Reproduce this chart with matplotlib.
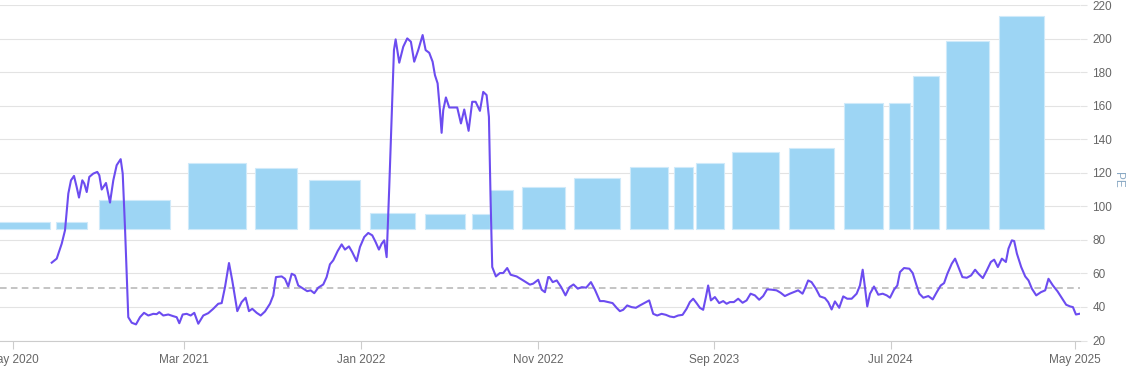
import pandas as pd
import numpy as np
import matplotlib
matplotlib.use("Agg")
import matplotlib.pyplot as plt
import matplotlib.dates as mdates

plt.rcParams["font.family"] = ["Liberation Sans", "DejaVu Sans"]

# Bars: one per reporting period (start, end, value)
bar_start = ["2020-03-01", "2020-07-24", "2020-10-06", "2021-03-08", "2021-07-01",
             "2021-10-02", "2022-01-15", "2022-04-20", "2022-07-10", "2022-08-10",
             "2022-10-04", "2023-01-02", "2023-04-08", "2023-06-23", "2023-08-01",
             "2023-10-02", "2024-01-07", "2024-04-11", "2024-06-28", "2024-08-08",
             "2024-10-05", "2025-01-03"]
bar_end = ["2020-07-13", "2020-09-15", "2021-02-05", "2021-06-16", "2021-09-12",
           "2021-12-29", "2022-04-04", "2022-06-28", "2022-08-10", "2022-09-20",
           "2022-12-17", "2023-03-22", "2023-06-13", "2023-07-26", "2023-09-17",
           "2023-12-21", "2024-03-26", "2024-06-17", "2024-08-03", "2024-09-22",
           "2024-12-18", "2025-03-22"]
bar_value = [4.2, 4.2, 17.5, 39.2, 36.6, 29.3, 9.4, 8.8, 8.8, 23.3, 24.9,
             30.4, 36.8, 36.8, 39.2, 45.8, 48.2, 75.0, 75.0, 91.3, 112.4, 127.2]

# PE line: days after 2020-05-01 and PE value
pe_base = "2020-05-01"
pe_day = [76.5, 85.1, 93.7, 99.4, 105.1, 109.7, 114.9, 119.5, 123.5, 129.2, 132.6, 136.8,
          141.2, 148.1, 155.0, 158.5, 162.6, 170.0, 176.9, 182.6, 188.4, 195.3, 198.8,
          202.7, 208.4, 214.3, 221.7, 228.6, 235.5, 242.9, 251.5, 257.3, 261.8, 268.7,
          277.3, 285.9, 291.8, 296.3, 302.1, 309.0, 315.9, 322.1, 329.0, 337.6, 346.2,
          354.8, 363.4, 369.3, 375.0, 381.9, 387.5, 396.2, 403.7, 410.6, 416.3, 422.0,
          429.6, 436.5, 443.9, 452.5, 458.2, 462.8, 472.6, 478.3, 484.0, 489.9, 495.5,
          501.2, 509.8, 516.7, 522.6, 528.8, 535.7, 544.3, 550.1, 555.8, 561.5, 569.1,
          576.0, 581.7, 588.6, 594.2, 601.8, 607.5, 614.9, 621.8, 628.7, 634.5, 640.2,
          644.9, 649.3, 653.5, 658.0, 662.1, 666.1, 669.0, 675.2, 682.1, 689.0, 695.3,
          701.0, 707.9, 715.5, 720.7, 726.9, 732.7, 736.7, 741.3, 745.3, 748.2, 751.0,
          755.6, 761.3, 768.2, 775.1, 781.5, 787.2, 794.7, 800.9, 806.8, 814.2, 819.9,
          825.7, 829.7, 832.6, 835.4, 841.7, 848.6, 854.3, 861.2, 867.1, 877.4, 888.8,
          900.3, 906.0, 914.6, 920.5, 926.2, 931.8, 933.9, 939.6, 946.6, 954.2, 961.6,
          968.5, 975.4, 982.8, 989.7, 997.3, 1005.4, 1012.3, 1020.9, 1027.7, 1035.2,
          1042.7, 1049.6, 1055.3, 1061.0, 1067.9, 1075.5, 1082.9, 1089.8, 1098.4,
          1105.8, 1112.7, 1119.6, 1127.2, 1134.6, 1141.5, 1148.4, 1155.7, 1163.3,
          1170.2, 1175.9, 1181.6, 1187.4, 1193.1, 1198.8, 1203.5, 1207.4, 1212.1,
          1219.0, 1226.4, 1233.3, 1239.2, 1244.8, 1251.7, 1259.1, 1266.7, 1273.6,
          1280.5, 1287.9, 1295.3, 1302.2, 1309.0, 1316.6, 1325.2, 1332.1, 1339.5,
          1348.1, 1356.8, 1362.4, 1370.0, 1374.0, 1379.7, 1385.5, 1393.0, 1399.9,
          1408.5, 1414.2, 1420.1, 1425.8, 1433.2, 1440.1, 1447.0, 1454.6, 1463.2,
          1468.9, 1473.6, 1477.5, 1481.5, 1486.2, 1493.1, 1500.5, 1508.1, 1515.0,
          1520.7, 1527.6, 1533.3, 1537.9, 1544.8, 1554.0, 1559.8, 1565.5, 1571.2,
          1578.1, 1586.7, 1594.3, 1601.2, 1608.1, 1613.8, 1619.5, 1627.1, 1632.8,
          1638.5, 1645.4, 1653.0, 1660.4, 1667.3, 1673.0, 1680.6, 1687.5, 1694.4,
          1700.1, 1706.5, 1713.4, 1720.3, 1724.8, 1730.6, 1734.6, 1739.3, 1746.7,
          1753.6, 1759.3, 1765.1, 1772.6, 1780.6, 1788.0, 1793.7, 1801.3, 1809.3,
          1816.8, 1824.2, 1831.1, 1835.8, 1841.0, 1846.7]
pe_value = [66.4, 68.8, 77.7, 85.7, 107.6, 115.5, 118.1, 111.5, 105.2, 115.5, 113.6, 108.5,
            117.5, 119.5, 120.5, 118.5, 110.0, 113.9, 102.2, 115.5, 124.5, 128.1, 119.5,
            87.6, 33.9, 30.6, 29.6, 33.9, 36.5, 34.9, 35.9, 35.7, 36.9, 34.9,
            35.5, 34.5, 33.9, 30.3, 35.5, 35.9, 34.9, 36.5, 30.0, 34.9, 36.3,
            38.9, 41.9, 42.3, 51.8, 66.2, 55.8, 37.5, 42.9, 45.5, 37.5, 38.9,
            36.5, 34.9, 37.3, 41.9, 46.9, 57.8, 58.2, 56.8, 52.2, 59.8, 58.8,
            52.8, 50.9, 49.4, 49.9, 48.2, 51.5, 53.4, 57.8, 65.4, 67.8, 73.3,
            77.3, 74.2, 76.1, 72.7, 67.3, 75.7, 81.7, 84.1, 82.7, 78.7, 74.2,
            77.7, 79.7, 69.7, 111.5, 153.3, 193.1, 199.5, 185.6, 195.1, 200.1, 198.1,
            186.2, 193.1, 202.1, 193.1, 191.5, 186.2, 178.2, 173.3, 157.3, 143.8, 157.3,
            164.9, 158.9, 158.9, 158.9, 149.4, 157.7, 145.0, 162.3, 162.3, 156.9, 168.2,
            166.3, 153.3, 103.6, 63.8, 58.2, 60.2, 60.2, 63.2, 59.2, 58.2, 55.8,
            53.3, 53.9, 56.2, 50.3, 48.8, 57.8, 57.8, 54.8, 55.8, 51.8, 46.9,
            51.8, 53.4, 50.9, 51.8, 51.5, 54.8, 50.3, 43.5, 43.5, 42.9,
            42.3, 39.5, 37.5, 38.3, 40.9, 39.9, 39.5, 40.9, 42.5,
            43.9, 35.9, 34.9, 35.9, 35.3, 34.3, 33.9, 34.9, 35.3,
            38.9, 42.9, 44.9, 42.3, 39.5, 38.3, 45.9, 52.8, 43.9,
            45.9, 42.3, 43.5, 41.9, 42.9, 42.9, 44.9, 42.5, 43.9,
            47.9, 46.9, 44.3, 46.5, 50.5, 50.3, 49.9, 48.5, 46.5,
            47.9, 49.1, 49.9, 47.9, 50.9, 55.8, 54.8, 50.9, 46.3,
            45.3, 42.9, 38.5, 43.3, 39.5, 46.3, 44.9, 44.9, 47.9,
            52.8, 62.2, 51.8, 40.3, 47.9, 52.2, 47.3, 47.9, 46.9,
            45.5, 50.3, 52.8, 60.8, 63.2, 62.8, 60.2, 53.9, 47.9,
            45.5, 46.5, 44.5, 48.8, 52.8, 54.2, 59.8, 65.8, 68.8,
            63.8, 57.8, 57.4, 58.8, 62.2, 59.8, 57.2, 61.8, 66.8,
            68.2, 63.8, 68.8, 66.8, 74.8, 79.7, 79.3, 71.8, 63.8,
            58.2, 55.8, 50.9, 46.9, 48.8, 49.9, 56.8, 52.8, 49.3,
            45.3, 41.3, 40.3, 39.9, 35.5, 35.9]
pe_average = 51.5

tick_dates = ["2020-05-11", "2021-03-01", "2022-01-01", "2022-11-01",
              "2023-09-01", "2024-07-01", "2025-05-14"]
tick_labels = ["May 2020", "Mar 2021", "Jan 2022", "Nov 2022",
               "Sep 2023", "Jul 2024", "May 2025"]

W, H = 1131, 381
fig = plt.figure(figsize=(W / 100, H / 100), dpi=100)
rect = [0, 1 - 340.5 / H, 1080 / W, 335.5 / H]

# base axis: grid, ticks, average line
ax = fig.add_axes(rect)
base = mdates.date2num(pd.Timestamp(pe_base))
ax.set_xlim(base - 12.6, base + 1848)
ax.set_ylim(20, 220)
ax.set_yticks(range(20, 221, 20))
ax.yaxis.tick_right()
ax.grid(axis="y", color="#e3e3e3", lw=0.8)
ax.set_axisbelow(True)
for s in ["left", "top", "right"]:
    ax.spines[s].set_visible(False)
ax.spines["bottom"].set_color("#cccccc")
ax.tick_params(axis="y", length=5, color="#e3e3e3", labelcolor="#666666",
               labelsize=8.5, pad=4)
ax.tick_params(axis="x", length=6, color="#cccccc", labelcolor="#666666",
               labelsize=8.5, pad=4)
ax.set_xticks(mdates.date2num(pd.to_datetime(tick_dates)))
ax.set_xticklabels(tick_labels)
ax.axhline(pe_average, color="#c4c4c4", lw=1.4, ls=(0, (3.4, 2.2)))
ax.set_ylabel("PE", rotation=270, color="#8aa9c4", fontsize=8.5)
ax.yaxis.set_label_position("right")
ax.yaxis.set_label_coords(1.041, 0.478)

# bars on their own hidden scale
axb = fig.add_axes(rect, sharex=ax)
axb.patch.set_visible(False)
axb.axis("off")
bs = mdates.date2num(pd.to_datetime(bar_start))
be = mdates.date2num(pd.to_datetime(bar_end))
axb.bar(bs, bar_value, width=be - bs, align="edge", color="#9dd5f4",
        edgecolor="#cfeafa", linewidth=0.8)
axb.set_ylim(-66.6, 133.7)

# PE line on top, same scale as base axis
axl = fig.add_axes(rect, sharex=ax)
axl.patch.set_visible(False)
axl.axis("off")
axl.plot(base + np.array(pe_day), pe_value, color="#6c4cf0", lw=1.5,
         solid_joinstyle="round")
axl.set_ylim(20, 220)
ax.set_xlim(base - 12.6, base + 1848)

fig.savefig("out.png", dpi=100)
